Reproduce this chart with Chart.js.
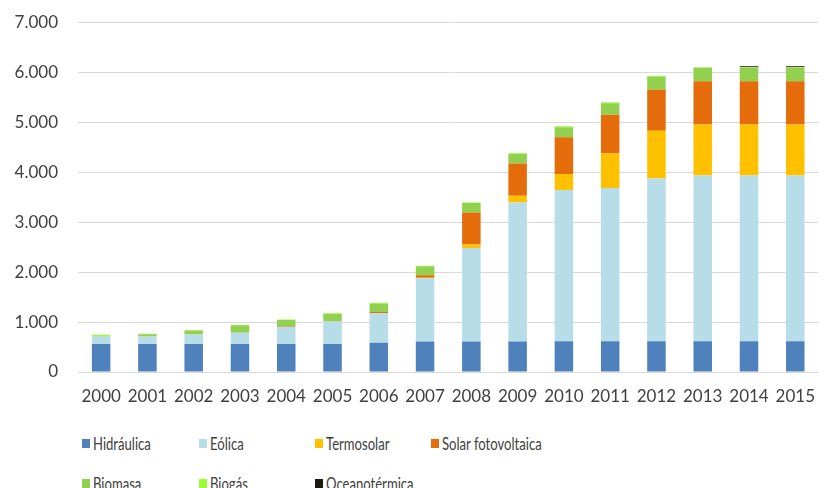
<!DOCTYPE html>
<html lang="es">
<head>
<meta charset="utf-8">
<script src="https://cdn.jsdelivr.net/npm/chart.js@4/dist/chart.umd.min.js"></script>
<style>
  html, body { margin: 0; padding: 0; background: #fff; }
  #wrap { position: relative; width: 829px; height: 488px; overflow: hidden; }
  #chart-box { position: absolute; left: 0; top: -8px; width: 829px; height: 428px; }
  .leg { position: absolute; display: flex; align-items: center; font-family: Lato, sans-serif;
         font-size: 17px; color: #404040; white-space: nowrap; }
  .leg i { display: inline-block; width: 8px; height: 9px; margin-right: 3px; }
  .leg span { display: inline-block; transform: scaleX(0.77); transform-origin: left center; }
</style>
</head>
<body>
<div id="wrap">
  <div id="chart-box"><canvas id="energyChart"></canvas></div>
  <div id="legend"></div>
</div>
<script>
// Potencia instalada por tecnología (MW)
const years = ['2000','2001','2002','2003','2004','2005','2006','2007',
               '2008','2009','2010','2011','2012','2013','2014','2015'];

const hidraulica    = [560, 560, 560, 560, 560, 560, 585, 610, 610, 610, 613, 613, 613, 613, 613, 613];
const eolica        = [150, 150, 190, 227, 345, 452, 591, 1266, 1870, 2780, 3030, 3070, 3260, 3320, 3320, 3320];
const termosolar    = [0, 0, 0, 0, 0, 0, 0, 11, 73, 135, 320, 693, 953, 1020, 1020, 1020];
const solarFV       = [0, 0, 0, 0, 15, 5, 25, 50, 640, 645, 733, 773, 820, 867, 867, 867];
const biomasa       = [10, 45, 74, 147, 119, 145, 170, 177, 187, 192, 200, 227, 260, 267, 267, 267];
const biogas        = [25, 12, 14, 12, 12, 14, 15, 13, 13, 15, 20, 20, 20, 13, 13, 13];
const oceanotermica = [0, 0, 0, 0, 0, 0, 0, 0, 0, 0, 0, 0, 0, 0, 20, 20];

const yTicks = [0, 1000, 2000, 3000, 4000, 5000, 6000, 7000];

const series = [
    { label: 'Hidráulica',         data: hidraulica,    color: '#4F81BD' },
    { label: 'Eólica',             data: eolica,        color: '#B7DDE8' },
    { label: 'Termosolar',         data: termosolar,    color: '#FFC000' },
    { label: 'Solar fotovoltaica', data: solarFV,       color: '#E46C0A' },
    { label: 'Biomasa',            data: biomasa,       color: '#92D050' },
    { label: 'Biogás',             data: biogas,        color: '#99FF33' },
    { label: 'Oceanotérmica',      data: oceanotermica, color: '#1D1B10' }
];

// separador de miles con punto
function fmt(v) {
    return String(v).replace(/\B(?=(\d{3})+(?!\d))/g, '.');
}

const font = { family: 'Lato, sans-serif', size: 17 };

new Chart(document.getElementById('energyChart'), {
    type: 'bar',
    data: {
        labels: years,
        datasets: series.map(s => ({
            label: s.label,
            data: s.data,
            backgroundColor: s.color,
            borderWidth: 0,
            categoryPercentage: 1,
            barPercentage: 0.4
        }))
    },
    options: {
        responsive: true,
        maintainAspectRatio: false,
        animation: false,
        layout: { padding: { top: 14, right: 0, bottom: 0, left: 0 } },
        plugins: { legend: { display: false }, tooltip: { enabled: false } },
        scales: {
            x: {
                stacked: true,
                grid: { display: false, drawTicks: false },
                border: { display: false },
                ticks: { color: '#404040', font, padding: 14, maxRotation: 0 },
                afterFit: axis => { axis.height = 48; }
            },
            y: {
                stacked: true,
                min: 0,
                max: 7000,
                afterBuildTicks: axis => { axis.ticks = yTicks.map(v => ({ value: v })); },
                grid: { color: '#D9D9D9', lineWidth: 1, drawTicks: false },
                border: { display: false },
                ticks: { color: '#404040', font, padding: 20, callback: v => fmt(v) },
                afterFit: axis => { axis.width = 78; }
            }
        }
    }
});

// Leyenda en dos filas, cuatro columnas
const legendCols = [82, 199, 315, 431];
const legendRows = [443, 483];
const legend = document.getElementById('legend');
series.forEach((s, i) => {
    const el = document.createElement('div');
    el.className = 'leg';
    el.style.left = legendCols[i % 4] + 'px';
    el.style.top = (legendRows[Math.floor(i / 4)] - 10) + 'px';
    el.style.height = '20px';
    el.innerHTML = `<i style="background:${s.color}"></i><span>${s.label}</span>`;
    legend.appendChild(el);
});
</script>
</body>
</html>
